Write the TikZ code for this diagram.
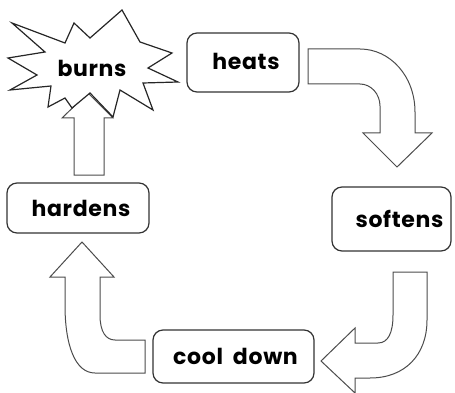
\documentclass[tikz,border=0pt]{standalone}
\usepackage{fontspec}
\setmainfont{Poppins}[LetterSpace=3]
\begin{document}
\begin{tikzpicture}[x=1pt,y=-1pt,
  box/.style={draw=black!80,line width=1.2pt,rounded corners=10pt,fill=white,
    font=\fontsize{22}{25}\selectfont\bfseries,inner sep=0pt},
  blockarrow/.style={draw=black!70,line width=1pt,fill=white,line join=miter},
  star/.style={draw=black!85,line width=1.2pt,fill=white,line join=miter}]
\useasboundingbox (0,0) rectangle (455,393);

% boxes
\node[box,minimum width=112pt,minimum height=59pt] (heats) at (243,62.5) {\hspace{6pt}\raisebox{2pt}{heats}};
\node[box,minimum width=119pt,minimum height=64pt] (softens) at (391.5,219) {\hspace{16pt}softens};
\node[box,minimum width=142pt,minimum height=50pt] (hardens) at (78,208) {\hspace{6pt}hardens};
\node[box,minimum width=161pt,minimum height=53pt] (cool) at (233.5,356.5) {\hspace{4pt}cool\hspace{10pt}down};

% heats -> softens
\draw[blockarrow] (308,49) -- (360,49) .. controls (390,49) and (415,76) .. (415,112)
  -- (415,133) -- (432,133) -- (397,167) -- (363,133) -- (380,133) -- (380,106)
  .. controls (380,94) and (371,84) .. (360,84) -- (308,84) -- cycle;

% softens -> cool down
\draw[blockarrow] (427,272) -- (427,320) .. controls (427,355) and (405,378) .. (370,378)
  -- (355,378) -- (355,393) -- (321,361) -- (355,328) -- (355,343) -- (378,343)
  .. controls (388,343) and (393,333) .. (393,315) -- (393,272) -- cycle;

% cool down -> hardens
\draw[blockarrow] (145,373) -- (95,373) .. controls (75,373) and (65,345) .. (65,305)
  -- (65,277) -- (50,277) -- (82,242) -- (114,277) -- (100,277) -- (100,315)
  .. controls (100,332) and (106,340) .. (115,340) -- (145,340) -- cycle;

% hardens -> burns
\draw[blockarrow] (74,175) -- (74,118) -- (62,118) -- (88,93) -- (113,118) -- (104,118) -- (104,175) -- cycle;

% starburst
\draw[star] (12,23) -- (65,43) -- (74,23) -- (90,38) -- (122,10) -- (140,42) -- (172,53)
  -- (148,68) -- (178,82) -- (143,83) -- (153,110) -- (120,90) -- (113,117) -- (90,93)
  -- (72,108) -- (65,98) -- (48,107) -- (51,86) -- (10,90) -- (37,75) -- (8,58)
  -- (45,52) -- cycle;
\node[font=\fontsize{22}{25}\selectfont\bfseries,inner sep=0pt] (burns) at (92,68) {burns};
\end{tikzpicture}
\end{document}
